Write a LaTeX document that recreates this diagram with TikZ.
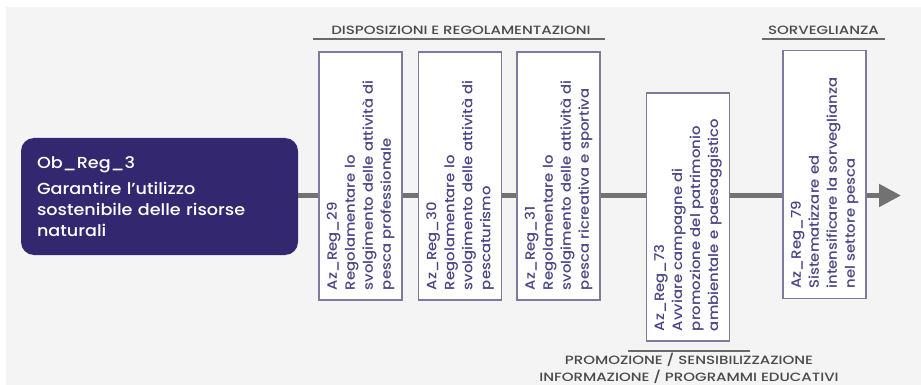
\documentclass[tikz,border=0pt]{standalone}
\usepackage{fontspec}
\setmainfont{Poppins Medium}[FakeStretch=1.1]
\newfontfamily\headfont{Poppins Medium}[FakeStretch=1.25]
\usetikzlibrary{arrows.meta}
\definecolor{bgc}{HTML}{F4F4F4}
\definecolor{obfill}{HTML}{33276F}
\definecolor{boxline}{HTML}{7D7A9E}
\definecolor{boxtext}{HTML}{4A4585}
\definecolor{mainline}{HTML}{727272}
\definecolor{headtext}{HTML}{4A4A4A}
\definecolor{rulec}{HTML}{6A6A6A}
\tikzset{
  actbox/.style={draw=boxline, line width=1.3pt, fill=white, rotate=90,
    minimum width=248pt, minimum height=83pt, inner xsep=10pt, inner ysep=2pt,
    text width=228pt, align=left, text=boxtext, font=\fontsize{13.5}{18}\selectfont},
  heading/.style={text=headtext, font=\headfont\fontsize{12}{16.5}\selectfont, inner sep=0pt},
  rule/.style={draw=rulec, line width=2pt},
}
\begin{document}
\begin{tikzpicture}[x=1pt,y=-1pt]
\useasboundingbox (0,0) rectangle (921,385);
\fill[bgc] (6,7) rectangle (921,385);
\node[fill=obfill, rounded corners=13pt, minimum width=277pt, minimum height=117pt,
  inner xsep=16pt, text width=245pt, align=left, text=white,
  font=\fontsize{16}{21}\selectfont] (ob) at (159.5,196.5)
  {Ob\_Reg\_3\\[5pt]Garantire l'utilizzo\\sostenibile delle risorse\\naturali};
\coordinate (tip) at (901,195.5);
\draw[draw=mainline, line width=5pt, -{Triangle[length=22pt,width=22pt]}] (ob.east|-tip) -- (tip);
\node[actbox] (r29) at (360.5,176) {Az\_Reg\_29\\Regolamentare lo\\svolgimento delle attività di\\pesca professionale};
\node[actbox] (r30) at (460,176) {Az\_Reg\_30\\Regolamentare lo\\svolgimento delle attività di\\pescaturismo};
\node[actbox] (r31) at (558.5,176) {Az\_Reg\_31\\Regolamentare lo\\svolgimento delle attività di\\pesca ricreativa e sportiva};
\node[actbox] (r73) at (688,217) {Az\_Reg\_73\\Avviare campagne di\\promozione del patrimonio\\ambientale e paesaggistico};
\node[actbox] (r79) at (824.5,174.5) {Az\_Reg\_79\\Sistematizzare ed\\intensificare la sorveglianza\\nel settore pesca};
\node[heading] (h1) at (461,30) {DISPOSIZIONI E REGOLAMENTAZIONI};
\draw[rule] (313,39) -- (605,39);
\node[heading] (h2) at (823.5,30) {SORVEGLIANZA};
\draw[rule] (762,39) -- (885,39);
\draw[rule] (628,351) -- (750,351);
\node[heading, align=center] (h3) at (689,368.5) {PROMOZIONE / SENSIBILIZZAZIONE\\INFORMAZIONE / PROGRAMMI EDUCATIVI};
\end{tikzpicture}
\end{document}
